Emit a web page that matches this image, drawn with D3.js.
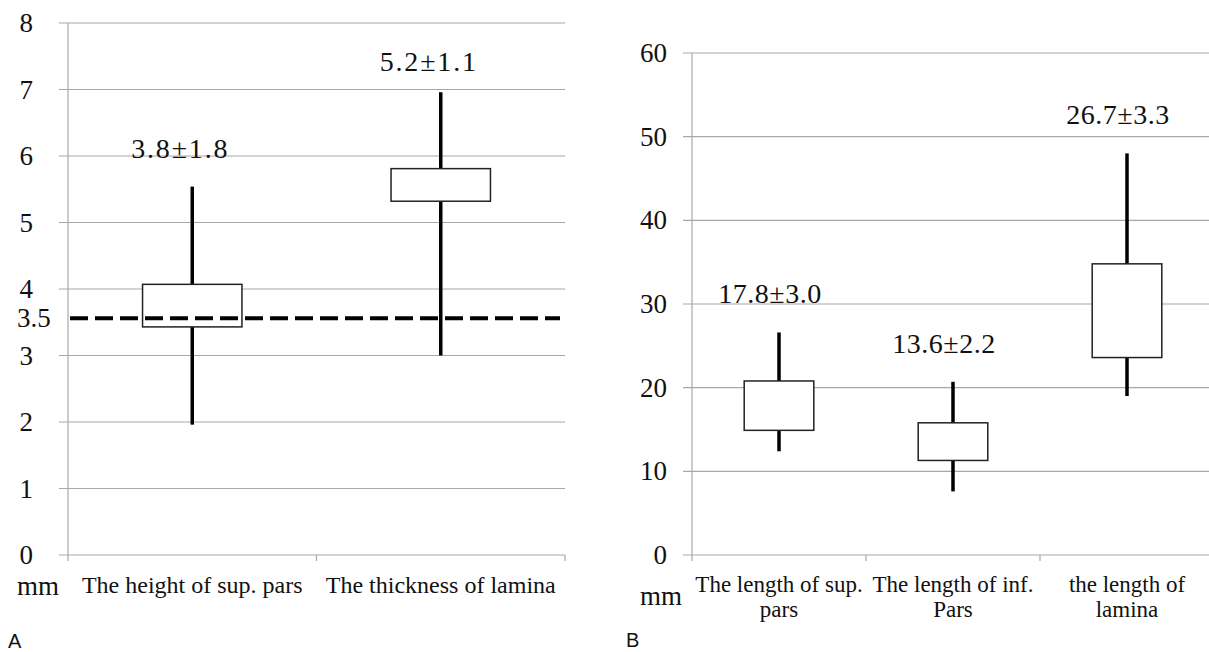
<!DOCTYPE html>
<html>
<head>
<meta charset="utf-8">
<script src="https://cdn.jsdelivr.net/npm/d3@7"></script>
<style>
  body { margin: 0; background: #fff; }
  svg text { font-family: "Liberation Serif", "DejaVu Serif", "Times New Roman", Times, serif; fill: #111; }
  .grid line { stroke: #a8a8a8; stroke-width: 1.2; }
  svg text.panelLetter { font-family: "Liberation Sans", Arial, sans-serif; font-size: 20px; }
</style>
</head>
<body>
<svg id="chart" width="1209" height="652"></svg>
<script>
// panel A
const catsA   = [ [ 'The height of sup. pars' ], [ 'The thickness of lamina' ] ];
const minA    = [ 1.96, 3.00 ];
const q1A     = [ 3.43, 5.32 ];
const q3A     = [ 4.07, 5.81 ];
const maxA    = [ 5.54, 6.96 ];
const labelsA = [ '3.8±1.8', '5.2±1.1' ];
const ticksA  = [ 0, 1, 2, 3, 4, 5, 6, 7, 8 ];
const refA    = 3.56;       // dashed reference line, labelled 3.5
const refLabelA = '3.5';

// panel B
const catsB   = [ [ 'The length of sup.', 'pars' ], [ 'The length of inf.', 'Pars' ], [ 'the length of', 'lamina' ] ];
const minB    = [ 12.4, 7.6, 19.0 ];
const q1B     = [ 14.9, 11.3, 23.6 ];
const q3B     = [ 20.8, 15.8, 34.8 ];
const maxB    = [ 26.6, 20.7, 48.0 ];
const labelsB = [ '17.8±3.0', '13.6±2.2', '26.7±3.3' ];
const ticksB  = [ 0, 10, 20, 30, 40, 50, 60 ];

const svg = d3.select( '#chart' );
const serif = '"Liberation Serif", "DejaVu Serif", "Times New Roman", Times, serif';

function panel( p ) {
  const g = svg.append( 'g' );

  const y = d3.scaleLinear().domain( d3.extent( p.ticks ) ).range( [ p.bottom, p.top ] );
  const x = d3.scaleBand().domain( p.cats.map( (d,i) => i ) ).range( [ p.left, p.right ] );

  // horizontal gridlines (they stick out a bit left of the axis, like ticks)
  g.append( 'g' ).attr( 'class', 'grid' )
    .selectAll( 'line' ).data( p.ticks ).enter().append( 'line' )
      .attr( 'x1', p.left - 9 ).attr( 'x2', Math.min( p.right, 1209 ) )
      .attr( 'y1', d => y(d) ).attr( 'y2', d => y(d) );

  // vertical axis line + category edge ticks
  const grid = g.append( 'g' ).attr( 'class', 'grid' );
  grid.append( 'line' )
      .attr( 'x1', p.left ).attr( 'x2', p.left )
      .attr( 'y1', p.top ).attr( 'y2', p.bottom + 6 );
  grid.selectAll( 'line.edge' ).data( p.cats.map( (d,i) => i + 1 ) ).enter().append( 'line' )
      .attr( 'class', 'edge' )
      .attr( 'x1', d => p.left + d * x.step() ).attr( 'x2', d => p.left + d * x.step() )
      .attr( 'y1', p.bottom ).attr( 'y2', p.bottom + 6 );

  // value axis labels
  const axis = d3.axisLeft( y ).tickValues( p.ticks ).tickSize( 0 ).tickPadding( 0 );
  const ax = g.append( 'g' )
      .attr( 'transform', `translate(${p.labelX},0)` )
      .call( axis )
      .attr( 'font-family', serif )
      .attr( 'font-size', 27 );
  ax.select( '.domain' ).remove();
  ax.selectAll( 'text' ).attr( 'fill', '#111' );

  // unit
  g.append( 'text' )
      .attr( 'x', p.mmX ).attr( 'y', p.mmY )
      .style( 'font-size', '27px' )
      .text( 'mm' );

  // category labels
  const cx = i => x(i) + x.bandwidth() / 2;
  g.append( 'g' ).selectAll( 'text' ).data( p.cats ).enter().append( 'text' )
      .attr( 'text-anchor', 'middle' )
      .style( 'font-size', p.catSize + 'px' )
      .attr( 'transform', (d,i) => `translate(${cx(i)},${p.catY})` )
      .selectAll( 'tspan' ).data( d => d ).enter().append( 'tspan' )
        .attr( 'x', 0 ).attr( 'y', (d,j) => j * 25 )
        .text( d => d );

  // boxes
  const bw = x.bandwidth() * 0.4;
  const boxes = g.append( 'g' ).selectAll( 'g' ).data( p.cats ).enter().append( 'g' );
  boxes.append( 'line' )
      .attr( 'x1', (d,i) => cx(i) ).attr( 'x2', (d,i) => cx(i) )
      .attr( 'y1', (d,i) => y( p.max[i] ) ).attr( 'y2', (d,i) => y( p.min[i] ) )
      .attr( 'stroke', '#000' ).attr( 'stroke-width', 3.5 );
  boxes.append( 'rect' )
      .attr( 'x', (d,i) => cx(i) - bw / 2 ).attr( 'width', bw )
      .attr( 'y', (d,i) => y( p.q3[i] ) )
      .attr( 'height', (d,i) => y( p.q1[i] ) - y( p.q3[i] ) )
      .attr( 'fill', '#fff' ).attr( 'stroke', '#222' ).attr( 'stroke-width', 1.5 );
  boxes.append( 'text' )
      .attr( 'text-anchor', 'middle' )
      .style( 'font-size', '28px' )
      .style( 'letter-spacing', p.labelSpacing + 'px' )
      .attr( 'x', (d,i) => cx(i) + p.labelShift )
      .attr( 'y', (d,i) => Math.max( y( p.max[i] ) - 29, p.top + 48 ) )
      .text( (d,i) => p.labels[i] );

  return y;
}

const yA = panel( {
  cats: catsA, min: minA, q1: q1A, q3: q3A, max: maxA, labels: labelsA, ticks: ticksA,
  left: 68, right: 565, top: 23, bottom: 555,
  labelX: 33, mmX: 17, mmY: 595, catY: 593, catSize: 24, labelSpacing: 1.8, labelShift: -12
} );

// dashed reference line in panel A
svg.append( 'line' )
    .attr( 'x1', 70 ).attr( 'x2', 560 )
    .attr( 'y1', yA( refA ) ).attr( 'y2', yA( refA ) )
    .attr( 'stroke', '#000' ).attr( 'stroke-width', 4 )
    .attr( 'stroke-dasharray', '18 7' );
svg.append( 'text' )
    .attr( 'x', 17 ).attr( 'y', yA( refA ) )
    .attr( 'dy', '0.32em' )
    .style( 'font-size', '27px' )
    .text( refLabelA );

panel( {
  cats: catsB, min: minB, q1: q1B, q3: q3B, max: maxB, labels: labelsB, ticks: ticksB,
  left: 692, right: 1214, top: 53, bottom: 555,
  labelX: 667, mmX: 640, mmY: 605, catY: 592, catSize: 23, labelSpacing: 0.5, labelShift: -9
} );

svg.append( 'text' ).attr( 'class', 'panelLetter' ).attr( 'x', 8 ).attr( 'y', 648 ).text( 'A' );
svg.append( 'text' ).attr( 'class', 'panelLetter' ).attr( 'x', 626 ).attr( 'y', 647 ).text( 'B' );
</script>
</body>
</html>
